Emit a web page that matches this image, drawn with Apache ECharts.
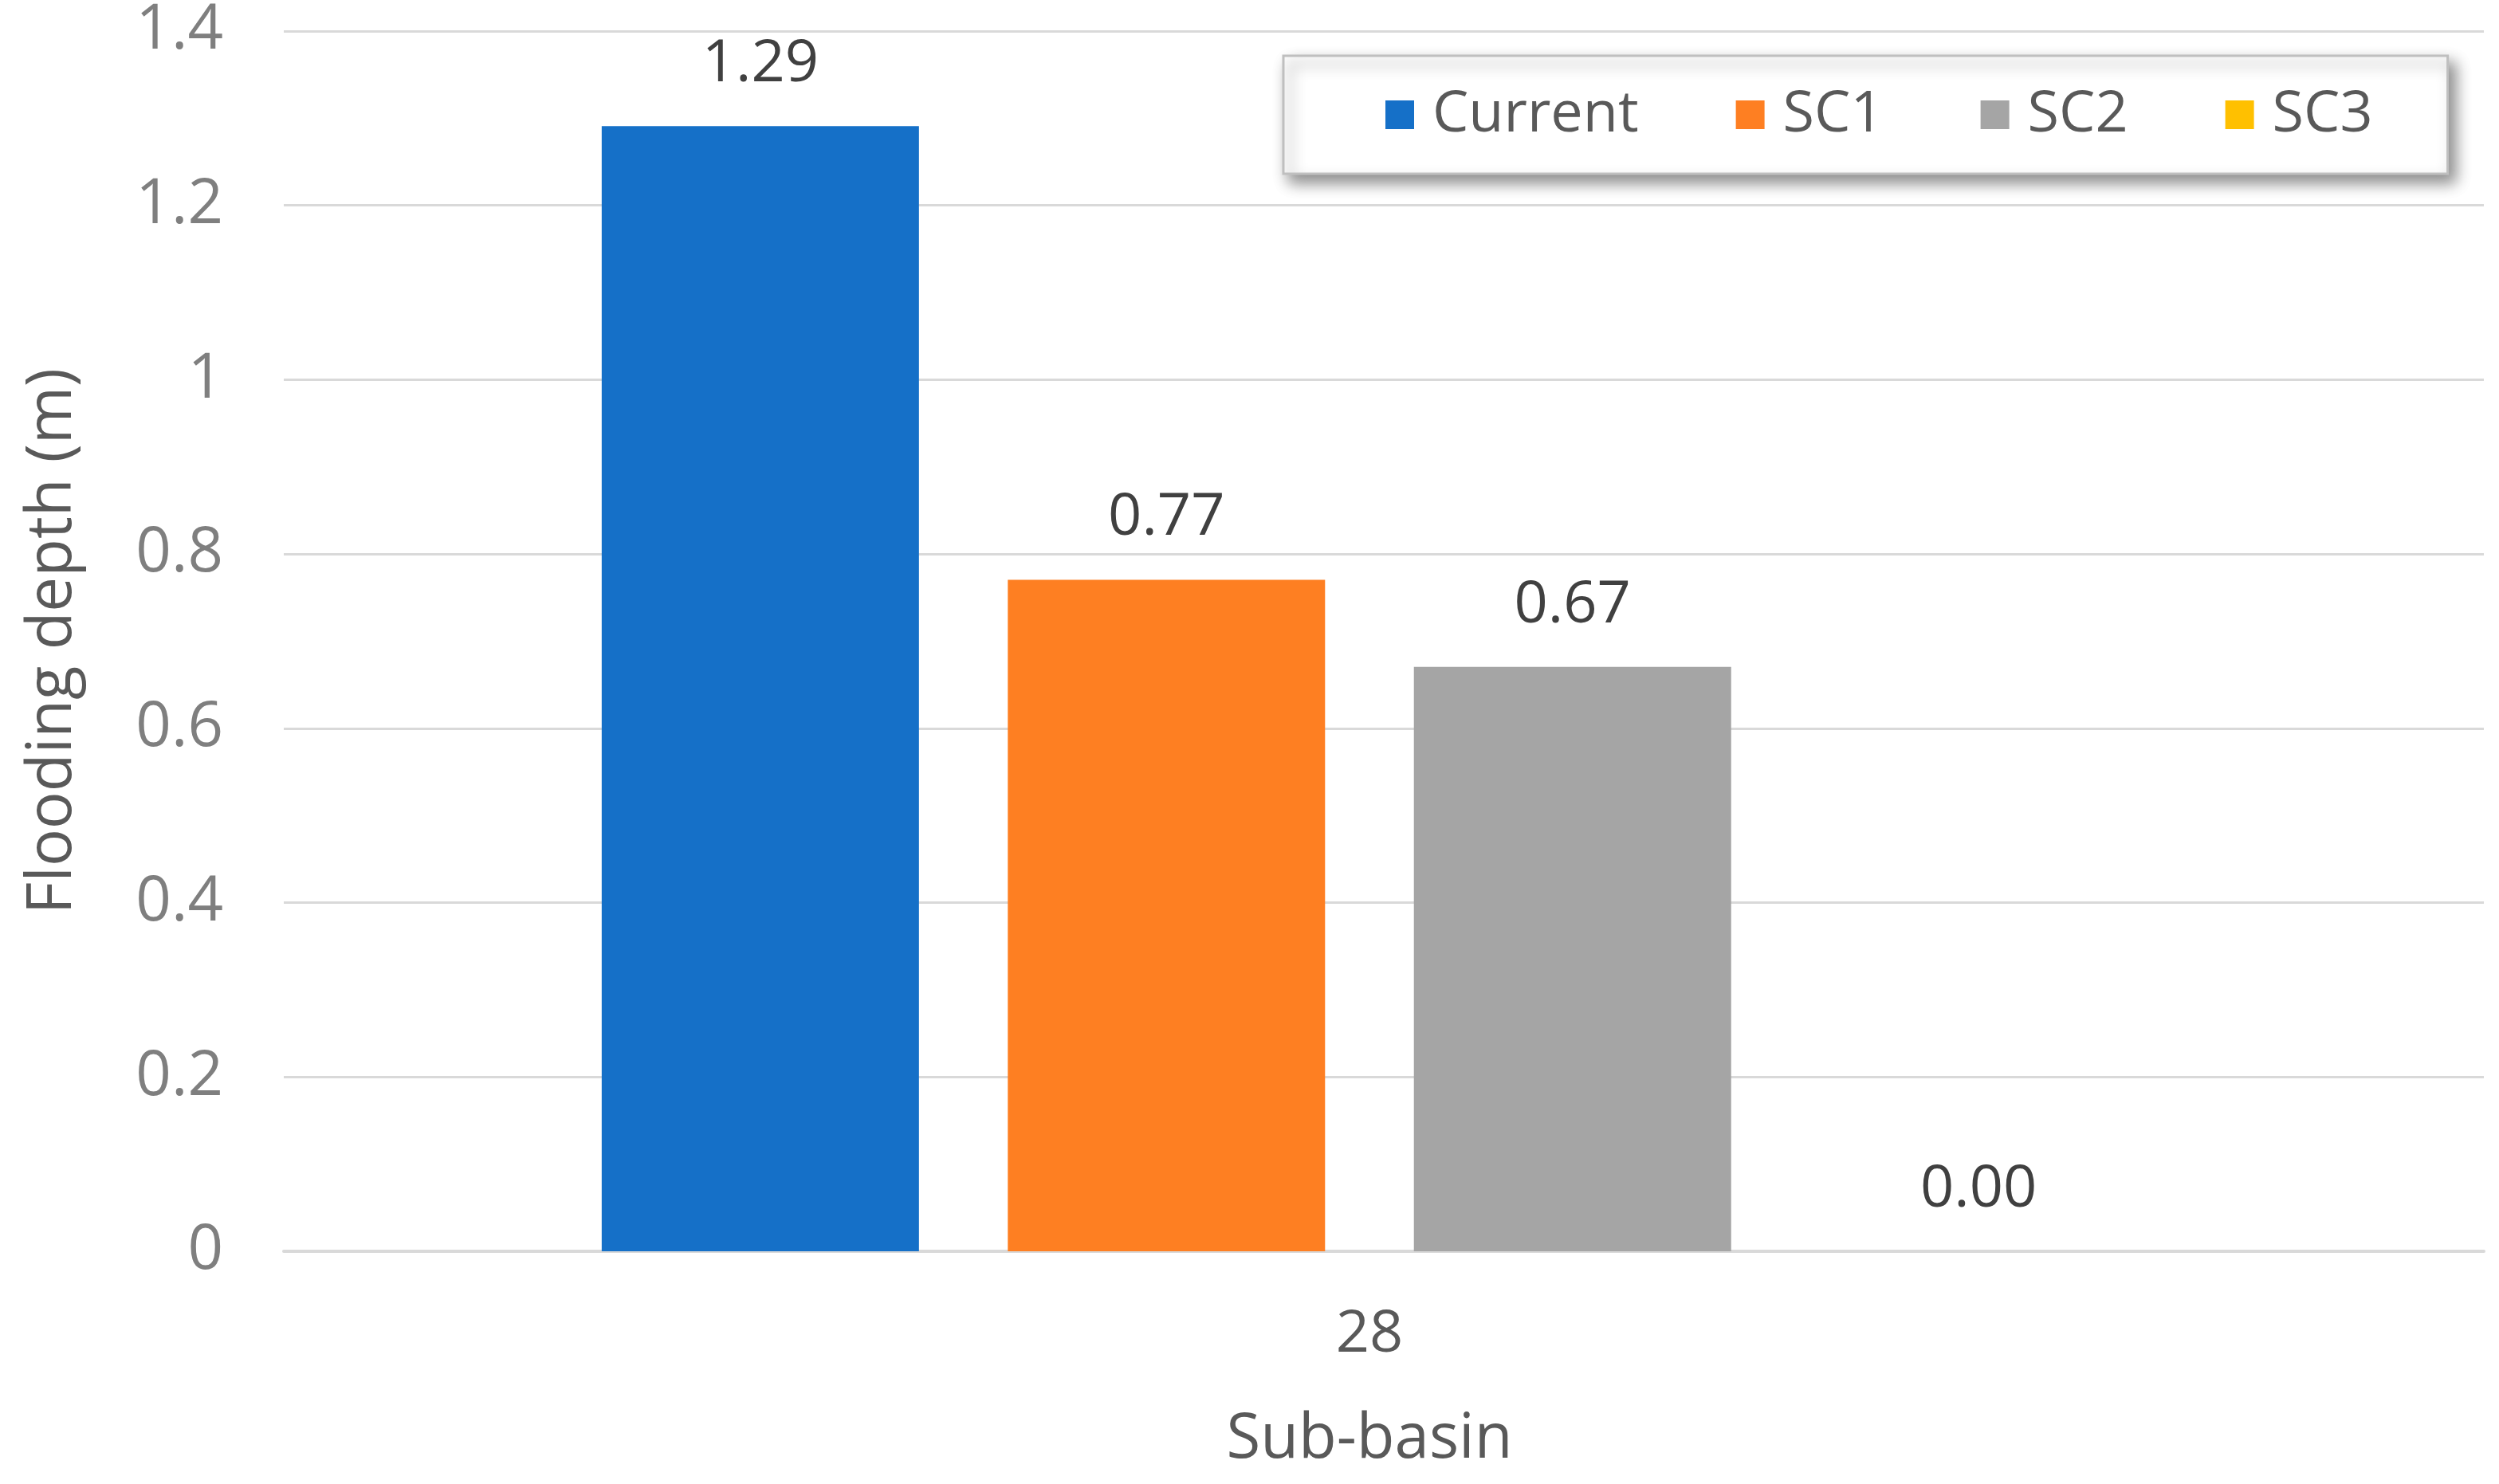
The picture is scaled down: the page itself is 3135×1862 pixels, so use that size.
<!DOCTYPE html>
<html>
<head>
<meta charset="utf-8">
<script src="https://cdn.jsdelivr.net/npm/echarts@6/dist/echarts.min.js"></script>
<style>
html,body{margin:0;padding:0;background:#fff;}
#c{width:3135px;height:1862px;}
</style>
</head>
<body>
<div id="c"></div>
<script>
const categories = ['28'];
const seriesNames = ['Current', 'SC1', 'SC2', 'SC3'];
const currentValues = [1.29];
const sc1Values = [0.77];
const sc2Values = [0.67];
const sc3Values = [0.00];
const yTicks = [0, 0.2, 0.4, 0.6, 0.8, 1, 1.2, 1.4];

const colors = ['#1570C8', '#FE7F22', '#A5A5A5', '#FFC000'];
const allValues = [currentValues, sc1Values, sc2Values, sc3Values];
const FONT = '"Open Sans", "Noto Sans", sans-serif';
const yMin = yTicks[0], yMax = yTicks[yTicks.length - 1], yStep = yTicks[1] - yTicks[0];

const chart = echarts.init(document.getElementById('c'), null, {renderer: 'canvas'});
chart.setOption({
  backgroundColor: '#ffffff',
  animation: false,
  textStyle: {fontFamily: FONT},
  grid: [
    {left: 356, right: 19, top: 38, bottom: 292, containLabel: false},
    {left: 320, right: 19, top: 38, bottom: 292, containLabel: false}
  ],
  legend: {
    data: seriesNames,
    left: 1610,
    top: 70,
    itemWidth: 36,
    itemHeight: 36,
    itemGap: 122,
    icon: 'rect',
    padding: [34, 94, 34, 128],
    backgroundColor: '#ffffff',
    borderColor: '#bfbfbf',
    borderWidth: 3,
    shadowColor: 'rgba(0,0,0,0.45)',
    shadowBlur: 18,
    shadowOffsetX: 8,
    shadowOffsetY: 10,
    textStyle: {fontSize: 72, lineHeight: 80, color: '#595959', fontFamily: FONT, padding: [0, 0, 0, 18]}
  },
  xAxis: [
    {
      gridIndex: 0,
      type: 'category',
      data: categories,
      axisLine: {show: true, lineStyle: {color: '#d9d9d9', width: 4}},
      axisTick: {show: false},
      axisLabel: {show: false}
    },
    {
      gridIndex: 1,
      type: 'category',
      data: categories,
      name: 'Sub-basin',
      nameLocation: 'middle',
      nameGap: 198,
      nameTextStyle: {fontSize: 78, color: '#595959', fontFamily: FONT},
      axisLine: {show: false},
      axisTick: {show: false},
      axisLabel: {fontSize: 74, color: '#595959', margin: 68, fontFamily: FONT}
    }
  ],
  yAxis: [
    {
      gridIndex: 0,
      type: 'value',
      min: yMin,
      max: yMax,
      interval: yStep,
      name: 'Flooding depth (m)',
      nameLocation: 'middle',
      nameRotate: 90,
      nameGap: 250,
      nameTextStyle: {fontSize: 78, color: '#595959', fontFamily: FONT},
      axisLine: {show: false},
      axisTick: {show: false},
      axisLabel: {
        fontSize: 78, color: '#7f7f7f', margin: 76, fontFamily: FONT,
        formatter: v => String(Math.round(v * 10) / 10)
      },
      splitLine: {lineStyle: {color: '#d9d9d9', width: 3}}
    },
    {
      gridIndex: 1,
      type: 'value',
      min: yMin,
      max: yMax,
      interval: yStep,
      show: false,
      splitLine: {show: false}
    }
  ],
  series: seriesNames.map((name, i) => ({
    name: name,
    type: 'bar',
    xAxisIndex: 1,
    yAxisIndex: 1,
    data: allValues[i],
    barWidth: 398,
    barGap: '28%',
    itemStyle: {color: colors[i]},
    label: {
      show: true,
      position: 'top',
      distance: 40,
      fontSize: 74,
      color: '#404040',
      fontFamily: FONT,
      formatter: p => p.value.toFixed(2)
    }
  }))
});
</script>
</body>
</html>
